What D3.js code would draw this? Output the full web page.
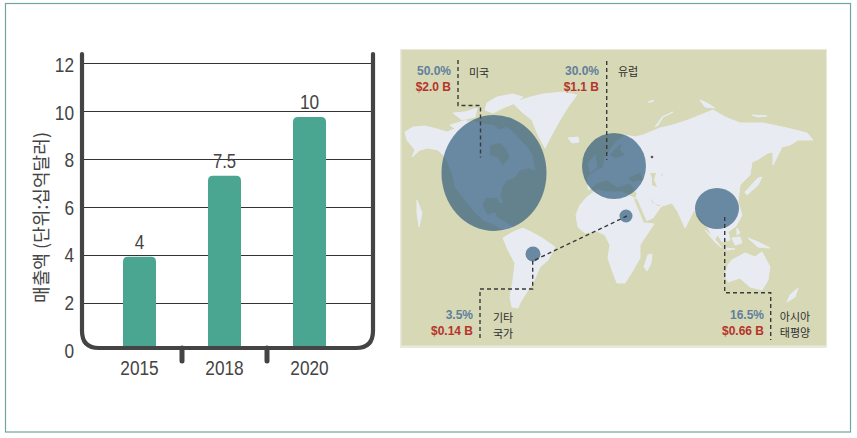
<!DOCTYPE html>
<html>
<head>
<meta charset="utf-8">
<script src="https://cdn.jsdelivr.net/npm/d3@7"></script>
<style>
  html, body { margin: 0; padding: 0; background: #fff; }
  svg { display: block; }
  text { font-family: "Noto Sans CJK KR", sans-serif; }
  .num { font-family: "Liberation Sans", sans-serif; fill: #444; font-size: 20.5px; }
  .pct, .rev { font-family: "Liberation Sans", sans-serif; font-weight: bold; font-size: 12px; }
  .pct { fill: #5f7f9c; }
  .rev { fill: #b5342a; }
  .name { font-size: 11px; fill: #2e2e2e; }
</style>
</head>
<body>
<svg id="chart" width="857" height="438"></svg>
<script>
// bar chart values
var categories = ["2015", "2018", "2020"];
var barHeights = [3.95, 7.32, 9.77];       // as drawn in the picture
var barLabels = ["4", "7.5", "10"];
var yTicks = [0, 2, 4, 6, 8, 10, 12];
var yTitle = "매출액 (단위:십억달러)";

// map bubbles, centres in map units
var shares = [50.0, 30.0, 16.5, 3.5];
var revenues = ["$2.0 B", "$1.1 B", "$0.66 B", "$0.14 B"];
var bubbleX = [94, 214, 317, 133];
var bubbleY = [123, 116, 158.5, 204];
var bubbleRx = [52.5, 32, 22, 7.5];
var bubbleRy = [58, 33, 20.5, 7.5];

var regionNames = [["미국"], ["유럽"], ["아시아", "태평양"], ["기타", "국가"]];
var labelX = [51, 199, 364, 73];
var labelY = [25, 25, 269, 269];
var nameX = [79, 228, 395, 103];
var nameY = [27, 26, 271, 272];

// leader lines in map units
var leaders = [
  [[58, 10], [58, 55.5], [80.5, 55.5], [80.5, 107.5]],
  [[206.7, 11], [206.7, 110]],
  [[324.7, 167], [324.7, 242.7], [370.7, 242.7], [370.7, 290]],
  [[80, 288], [80, 239], [132.7, 239], [132.7, 210]],
  [[135, 210], [227, 166]]
];

// land outlines in map units, traced by eye
var land = [
  [[5,82],[13,77],[25,76],[37,79],[47,82],[57,78],[63,73],[72,71],[80,73],[87,75],[93,75],[100,80],[107,77],[113,82],[120,90],[127,97],[132,105],[135,120],[128,118],[120,120],[115,127],[107,130],[102,137],[100,147],[103,152],[100,153],[97,147],[85,148],[82,155],[87,165],[95,163],[97,168],[105,172],[113,177],[103,180],[95,175],[83,170],[73,160],[63,147],[55,137],[53,125],[50,118],[45,107],[38,100],[28,98],[20,100],[12,107],[15,100],[7,90]],
  [[87,53],[97,47],[113,44],[123,47],[115,53],[103,58],[93,63],[85,60]],
  [[113,53],[127,48],[143,44],[163,42],[177,45],[168,57],[160,70],[150,88],[145,98],[138,85],[132,70],[122,62]],
  [[53,63],[65,62],[77,58],[75,67],[62,70]],
  [[50,75],[67,70],[60,82]],
  [[168,88],[178,87],[179,92],[172,93]],
  [[17,150],[22,163],[19,177],[17,163]],
  [[103,188],[113,182],[123,178],[133,183],[142,188],[155,197],[148,210],[140,217],[133,233],[128,240],[120,253],[118,258],[112,257],[110,247],[113,230],[115,213],[108,200]],
  [[176,165],[180,155],[187,147],[197,140],[210,142],[223,142],[234,148],[240,162],[246,173],[254,174],[248,183],[240,195],[240,208],[232,222],[225,233],[217,233],[212,220],[208,208],[210,195],[205,185],[197,181],[185,183],[178,177]],
  [[248,205],[252,204],[251,213],[247,221],[244,217]],
  [[188,137],[188,127],[197,120],[203,118],[205,108],[212,97],[218,90],[225,85],[235,87],[243,85],[260,78],[273,75],[288,70],[298,66],[313,60],[325,67],[340,73],[363,73],[387,78],[407,83],[413,90],[398,90],[390,95],[382,97],[378,105],[373,115],[373,102],[368,103],[357,110],[352,112],[350,125],[340,135],[338,152],[342,165],[336,176],[328,182],[330,190],[322,192],[318,185],[314,190],[308,178],[300,168],[294,160],[288,172],[285,178],[278,162],[272,153],[262,156],[260,158],[253,168],[243,172],[235,152],[237,143],[230,133],[217,137],[207,130],[197,133],[189,140]],
  [[255,77],[262,67],[273,62],[263,67],[258,75]],
  [[248,52],[254,50],[252,52]],
  [[300,50],[307,53],[315,58],[305,57]],
  [[352,65],[367,66],[358,67]],
  [[358,128],[362,127],[358,135],[347,145],[345,142]],
  [[188,113],[195,105],[197,117],[190,123]],
  [[305,180],[313,187],[322,198],[315,192]],
  [[332,188],[340,187],[342,193],[335,195]],
  [[348,188],[358,192],[370,198],[358,197]],
  [[325,198],[335,199],[327,200]],
  [[337,178],[340,183],[337,185]],
  [[332,210],[345,203],[355,207],[362,202],[370,217],[368,230],[362,240],[350,237],[340,228],[328,232],[325,225],[328,215]],
  [[398,238],[395,247],[387,252],[390,245]]
];
var seas = [
  [[90,95],[100,93],[105,98],[110,107],[103,115],[98,108],[90,105]],
  [[234,149],[237,149],[247,172],[244,173]],
  [[250,148],[255,154],[262,156],[258,156],[252,152]],
  [[250,123],[256,123],[254,130],[257,137],[252,135],[252,128]],
  [[262,123],[263,125],[261,126]],
  [[228,128],[240,123],[243,130],[232,132]],
  [[210,105],[217,97],[222,93],[220,100],[225,105],[215,108]]
];

var svg = d3.select("#chart");

// squeeze a number into the condensed width of the original digits
function narrow(sel) {
  sel.attr("lengthAdjust", "spacingAndGlyphs")
    .attr("textLength", function() {
      var s = d3.select(this).text();
      return s.replace(/\./g, "").length * 9.6 + (s.indexOf(".") >= 0 ? 4 : 0);
    });
}

// outer frame
svg.append("rect")
  .attr("x", 5.5).attr("y", 3.5).attr("width", 845).attr("height", 428.5)
  .attr("fill", "none").attr("stroke", "#6fa5a0").attr("stroke-width", 1.2);

// ---- bar chart ----
var y = d3.scaleLinear().domain([0, 12]).range([351.5, 63.5]);
var x = d3.scaleBand().domain(categories).range([97, 352]);
var axisLeftX = 82, axisRightX = 373, axisBottomY = 348, axisTopY = 54;
var barWidth = 33;

svg.append("g").selectAll("line")
  .data(yTicks.filter(function(d) { return d > 0; }))
  .enter().append("line")
  .attr("x1", axisLeftX).attr("x2", axisRightX)
  .attr("y1", function(d) { return y(d); })
  .attr("y2", function(d) { return y(d); })
  .attr("stroke", "#333").attr("stroke-width", 1);

// bars, rounded on top only
svg.append("g").selectAll("path")
  .data(categories)
  .enter().append("path")
  .attr("fill", "#4aa591")
  .attr("d", function(d, i) {
    var r = 5;
    var l = x(d) + (x.bandwidth() - barWidth) / 2;
    var t = y(barHeights[i]);
    return "M" + l + "," + axisBottomY + "V" + (t + r) +
      "Q" + l + "," + t + " " + (l + r) + "," + t +
      "H" + (l + barWidth - r) +
      "Q" + (l + barWidth) + "," + t + " " + (l + barWidth) + "," + (t + r) +
      "V" + axisBottomY + "Z";
  });

// the tub shaped axis line
svg.append("path")
  .attr("fill", "none").attr("stroke", "#444").attr("stroke-width", 4.2)
  .attr("stroke-linecap", "round")
  .attr("d", "M" + axisLeftX + "," + axisTopY + "V" + (axisBottomY - 17) +
    "Q" + axisLeftX + "," + axisBottomY + " " + (axisLeftX + 17) + "," + axisBottomY +
    "H" + (axisRightX - 17) +
    "Q" + axisRightX + "," + axisBottomY + " " + axisRightX + "," + (axisBottomY - 17) +
    "V" + axisTopY);

svg.append("g").selectAll("line")
  .data(categories.slice(1))
  .enter().append("line")
  .attr("x1", function(d) { return x(d); })
  .attr("x2", function(d) { return x(d); })
  .attr("y1", axisBottomY).attr("y2", 361)
  .attr("stroke", "#444").attr("stroke-width", 5).attr("stroke-linecap", "round");

// tick labels sit a little tighter than the grid in the original
var yAxis = svg.append("g")
  .attr("transform", "translate(74,1.5)")
  .call(d3.axisLeft(y.copy().range([349, 63.5])).tickValues(yTicks).tickSize(0).tickPadding(0));
yAxis.select(".domain").remove();
yAxis.selectAll("text").attr("class", "num").attr("fill", null).call(narrow);

var xAxis = svg.append("g")
  .attr("transform", "translate(0,355)")
  .call(d3.axisBottom(x).tickSize(0).tickPadding(5));
xAxis.select(".domain").remove();
xAxis.selectAll("text").attr("class", "num").attr("fill", null).call(narrow);

svg.append("g").selectAll("text")
  .data(barLabels)
  .enter().append("text")
  .attr("class", "num")
  .attr("text-anchor", "middle")
  .attr("x", function(d, i) { return x(categories[i]) + x.bandwidth() / 2; })
  .attr("y", function(d, i) { return y(barHeights[i]) - 8; })
  .text(function(d) { return d; })
  .call(narrow);

svg.append("text")
  .attr("transform", "translate(48,217.5) rotate(-90)")
  .attr("text-anchor", "middle")
  .attr("textLength", 171)
  .attr("lengthAdjust", "spacingAndGlyphs")
  .attr("fill", "#444")
  .attr("font-size", 18)
  .text(yTitle);

// ---- map ----
var mapX = d3.scaleLinear().domain([0, 426]).range([400, 826]);
var mapY = d3.scaleLinear().domain([0, 296]).range([50, 346]);
var leaderLine = d3.line()
  .x(function(d) { return mapX(d[0]); })
  .y(function(d) { return mapY(d[1]); });
var coastLine = d3.line()
  .x(function(d) { return mapX(d[0]); })
  .y(function(d) { return mapY(d[1]); })
  .curve(d3.curveLinearClosed);

svg.append("rect")
  .attr("x", 400).attr("y", 49).attr("width", 427).attr("height", 299)
  .attr("fill", "#e9eadd");
svg.append("rect")
  .attr("x", 401.5).attr("y", 50).attr("width", 424.5).attr("height", 295.5)
  .attr("fill", "#d7d8b5");

svg.append("g").selectAll("path")
  .data(land)
  .enter().append("path")
  .attr("fill", "#e8ecf2")
  .attr("stroke", "#e8ecf2").attr("stroke-width", 1).attr("stroke-linejoin", "round")
  .attr("d", coastLine);

svg.append("g").selectAll("path")
  .data(seas)
  .enter().append("path")
  .attr("fill", "#d7d8b5")
  .attr("d", coastLine);

svg.append("g").selectAll("ellipse")
  .data(shares)
  .enter().append("ellipse")
  .attr("cx", function(d, i) { return mapX(bubbleX[i]); })
  .attr("cy", function(d, i) { return mapY(bubbleY[i]); })
  .attr("rx", function(d, i) { return bubbleRx[i]; })
  .attr("ry", function(d, i) { return bubbleRy[i]; })
  .attr("fill", "#2c587b")
  .attr("fill-opacity", 0.68);

// small extra bubble over Africa and the dot over Russia
svg.append("circle").attr("cx", mapX(226)).attr("cy", mapY(166)).attr("r", 6.5)
  .attr("fill", "#2c587b").attr("fill-opacity", 0.68);
svg.append("circle").attr("cx", mapX(252)).attr("cy", mapY(107)).attr("r", 1.3)
  .attr("fill", "#555");

svg.append("g").selectAll("path")
  .data(leaders)
  .enter().append("path")
  .attr("fill", "none")
  .attr("stroke", "#3a3a3a").attr("stroke-width", 1.4)
  .attr("stroke-dasharray", "4,3")
  .attr("d", leaderLine);

var labels = svg.append("g");
labels.selectAll(".pct")
  .data(shares)
  .enter().append("text")
  .attr("class", "pct")
  .attr("text-anchor", "end")
  .attr("x", function(d, i) { return mapX(labelX[i]); })
  .attr("y", function(d, i) { return mapY(labelY[i]); })
  .text(function(d) { return d.toFixed(1) + "%"; });
labels.selectAll(".rev")
  .data(revenues)
  .enter().append("text")
  .attr("class", "rev")
  .attr("text-anchor", "end")
  .attr("x", function(d, i) { return mapX(labelX[i]); })
  .attr("y", function(d, i) { return mapY(labelY[i] + 16); })
  .text(function(d) { return d; });

regionNames.forEach(function(lines, i) {
  labels.selectAll(null)
    .data(lines)
    .enter().append("text")
    .attr("class", "name")
    .attr("text-anchor", "middle")
    .attr("x", mapX(nameX[i]))
    .attr("y", function(d, j) { return mapY(nameY[i] + j * 15.5); })
    .text(function(d) { return d; });
});
</script>
</body>
</html>
